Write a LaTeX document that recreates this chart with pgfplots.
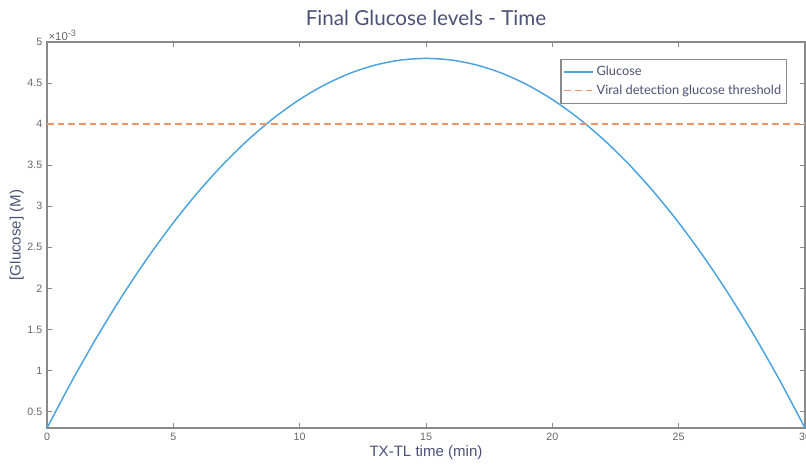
\documentclass[border=0pt]{standalone}
\usepackage{fontspec}
\setmainfont{Liberation Sans}
\newfontfamily\lato{Lato}
\usepackage{pgfplots}
\pgfplotsset{compat=1.18}
\definecolor{glucblue}{HTML}{4AA3DF}
\definecolor{throrange}{HTML}{EE956C}
\definecolor{slate}{HTML}{4B5276}
\definecolor{axgray}{HTML}{8A8A8A}
\definecolor{tickgray}{HTML}{666666}

\begin{document}
\begin{tikzpicture}
\begin{axis}[
  scale only axis,width=568.5pt,height=289.5pt,
  xmin=0,xmax=30,ymin=0.3,ymax=5,clip=false,
  xtick={0,5,...,30},ytick={0.5,1,...,5},
  tick align=inside,major tick length=4pt,
  axis line style={axgray,line width=0.8pt},
  every tick/.style={axgray,line width=0.6pt},
  tick label style={font=\fontsize{8}{9}\selectfont,text=tickgray},
  /pgf/number format/assume math mode=true,
  title={\lato\fontsize{15.5}{18}\selectfont Final Glucose levels - Time},
  title style={text=slate,yshift=3pt},
  xlabel={TX-TL time (min)},ylabel={[Glucose] (M)},
  label style={font=\fontsize{11.3}{13}\selectfont,text=slate},
  xlabel style={yshift=3pt},ylabel style={yshift=-4pt},
  legend style={at={(1,1)},anchor=north east,xshift=-13.5pt,yshift=-12.75pt,
    draw=axgray,line width=0.8pt,font=\lato\fontsize{9.6}{12.5}\selectfont,text=slate,
    inner xsep=2pt,inner ysep=3pt,row sep=1.5pt},
  legend cell align=left,
  legend image code/.code={\draw[#1] (0cm,0cm) -- (0.76cm,0cm);},
]
\addplot[glucblue,line width=1.1pt,smooth] coordinates {
(0,0.30)(1,0.88)(2,1.42)(3,1.92)(4,2.38)(5,2.80)(6,3.18)(7,3.52)(8,3.82)(9,4.08)
(10,4.30)(11,4.48)(12,4.62)(13,4.72)(14,4.78)(15,4.80)(16,4.78)(17,4.72)(18,4.62)
(19,4.48)(20,4.30)(21,4.08)(22,3.82)(23,3.52)(24,3.18)(25,2.80)(26,2.38)(27,1.92)
(28,1.42)(29,0.88)(30,0.30)};
\addplot[throrange,line width=1.1pt,dash pattern=on 5pt off 3pt] coordinates {(0,4)(30,4)};
\legend{Glucose,Viral detection glucose threshold}
\node[anchor=south west,font=\fontsize{8.5}{9}\selectfont,text=tickgray,inner sep=1pt] at (rel axis cs:0,1) {×10\raisebox{0.6ex}{\fontsize{6.8}{7}\selectfont -3}};
\end{axis}
\pgfresetboundingbox
\path[use as bounding box] (-35.25pt,-29.25pt) rectangle (569.25pt,321pt);
\end{tikzpicture}
\end{document}
